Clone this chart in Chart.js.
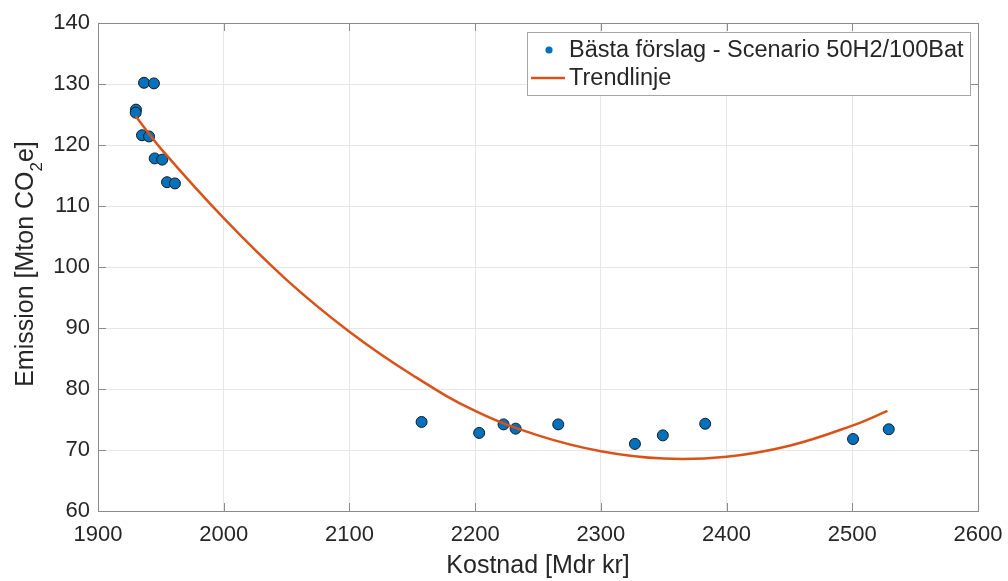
<!DOCTYPE html>
<html>
<head>
<meta charset="utf-8">
<script src="https://cdn.jsdelivr.net/npm/chart.js@4.4.1/dist/chart.umd.min.js"></script>
<style>
  html, body { margin: 0; padding: 0; background: #ffffff; }
  #wrap { width: 1008px; height: 581px; position: relative; }
</style>
</head>
<body>
<div id="wrap"><canvas id="paretoChart"></canvas></div>
<script>
// Best proposals: cost [Mdr kr] vs emission [Mton CO2e]
const costs = [1936.6, 1944.5, 1930.2, 1930.0, 1935.0, 1940.6, 1945.1, 1951.1, 1954.9, 1961.2,
               2157.4, 2203.2, 2222.6, 2232.2, 2266.1, 2327.1, 2349.3, 2383.0, 2500.6, 2529.0];
const emissions = [130.2, 130.1, 125.8, 125.3, 121.6, 121.4, 117.8, 117.6, 113.9, 113.7,
                   74.6, 72.8, 74.2, 73.5, 74.2, 71.0, 72.4, 74.3, 71.8, 73.4];

// Trend line, sampled along the curve
const trendCost = [1930, 1950, 2000, 2050, 2100, 2150, 2200, 2250, 2300, 2350, 2400, 2450, 2500, 2528];
const trendEmission = [124.7, 119.4, 108.0, 97.9, 89.4, 82.3, 76.4, 72.4, 69.8, 68.6, 68.9, 70.7, 74.0, 76.4];

const xTicks = [1900, 2000, 2100, 2200, 2300, 2400, 2500, 2600];
const yTicks = [60, 70, 80, 90, 100, 110, 120, 130, 140];

const seriesLabels = ['Bästa förslag - Scenario 50H2/100Bat', 'Trendlinje'];

const FONT = "'Liberation Sans', Arial, sans-serif";
const TEXT = '#262626';
const AXIS = '#8a8a8a';

// Box around the plot plus inward tick marks on all four sides
const axesBox = {
    id: 'axesBox',
    afterDatasetsDraw(chart) {
        const { ctx, chartArea: a, scales } = chart;
        const len = 8;
        ctx.save();
        ctx.strokeStyle = AXIS;
        ctx.lineWidth = 1;
        ctx.beginPath();
        xTicks.forEach(v => {
            const px = Math.round(scales.x.getPixelForValue(v)) + 0.5;
            ctx.moveTo(px, a.bottom); ctx.lineTo(px, a.bottom - len);
            ctx.moveTo(px, a.top); ctx.lineTo(px, a.top + len);
        });
        yTicks.forEach(v => {
            const py = Math.round(scales.y.getPixelForValue(v)) + 0.5;
            ctx.moveTo(a.left, py); ctx.lineTo(a.left + len, py);
            ctx.moveTo(a.right, py); ctx.lineTo(a.right - len, py);
        });
        ctx.stroke();
        ctx.strokeRect(Math.round(a.left) + 0.5, Math.round(a.top) + 0.5,
                       Math.round(a.right - a.left), Math.round(a.bottom - a.top));
        ctx.restore();
    }
};

// Y axis title with subscripted 2
const yTitle = {
    id: 'yTitle',
    afterDraw(chart) {
        const { ctx } = chart;
        const parts = [
            { t: 'Emission [Mton CO', size: 25, dy: 0 },
            { t: '2', size: 17, dy: 9 },
            { t: 'e]', size: 25, dy: 0 }
        ];
        ctx.save();
        ctx.translate(33, 264);
        ctx.rotate(-Math.PI / 2);
        ctx.fillStyle = TEXT;
        ctx.textBaseline = 'alphabetic';
        let total = 0;
        parts.forEach(p => { ctx.font = p.size + 'px ' + FONT; p.w = ctx.measureText(p.t).width; total += p.w; });
        let x = -total / 2;
        parts.forEach(p => {
            ctx.font = p.size + 'px ' + FONT;
            ctx.fillText(p.t, x, p.dy);
            x += p.w;
        });
        ctx.restore();
    }
};

// Legend box in the upper right corner of the plot
const boxLegend = {
    id: 'boxLegend',
    afterDraw(chart) {
        const { ctx } = chart;
        const ds = chart.data.datasets;
        const left = 527, top = 32, w = 443, h = 63;
        ctx.save();
        ctx.fillStyle = '#ffffff';
        ctx.fillRect(left, top, w, h);
        ctx.strokeStyle = '#a6a6a6';
        ctx.lineWidth = 1;
        ctx.strokeRect(left + 0.5, top + 0.5, w, h);
        ctx.font = '23.5px ' + FONT;
        ctx.textBaseline = 'middle';
        const rows = [top + 19, top + 47];
        // scatter entry
        ctx.beginPath();
        ctx.arc(left + 22, rows[0] - 1, 3.6, 0, Math.PI * 2);
        ctx.fillStyle = ds[0].backgroundColor;
        ctx.fill();
        ctx.fillStyle = TEXT;
        ctx.fillText(ds[0].label, left + 42, rows[0]);
        // line entry
        ctx.beginPath();
        ctx.moveTo(left + 4, rows[1] - 1);
        ctx.lineTo(left + 38, rows[1] - 1);
        ctx.strokeStyle = ds[1].borderColor;
        ctx.lineWidth = 2.5;
        ctx.stroke();
        ctx.fillText(ds[1].label, left + 42, rows[1]);
        ctx.restore();
    }
};

const ctx = document.getElementById('paretoChart').getContext('2d');
new Chart(ctx, {
    type: 'scatter',
    data: {
        datasets: [
            {
                label: seriesLabels[0],
                data: costs.map((c, i) => ({ x: c, y: emissions[i] })),
                backgroundColor: '#0072BD',
                borderColor: '#1a1a1a',
                borderWidth: 1,
                pointRadius: 5.5,
                order: 1
            },
            {
                label: seriesLabels[1],
                type: 'line',
                data: trendCost.map((c, i) => ({ x: c, y: trendEmission[i] })),
                borderColor: '#D95319',
                borderWidth: 2.5,
                pointRadius: 0,
                fill: false,
                tension: 0.4,
                order: 0
            }
        ]
    },
    options: {
        responsive: true,
        maintainAspectRatio: false,
        animation: false,
        layout: { padding: { top: 23, right: 30, left: 0, bottom: 0 } },
        plugins: {
            legend: { display: false },
            tooltip: { enabled: false }
        },
        scales: {
            x: {
                type: 'linear',
                min: 1900,
                max: 2600,
                afterBuildTicks: axis => { axis.ticks = xTicks.map(v => ({ value: v })); },
                afterFit: axis => {
                    axis.height = 70;
                    axis.paddingLeft = 0;
                    axis.paddingRight = 0;
                },
                border: { display: false },
                grid: { color: '#e6e6e6', drawTicks: false },
                ticks: {
                    color: TEXT,
                    font: { family: FONT, size: 22 },
                    padding: 11,
                    maxRotation: 0,
                    callback: v => String(v)
                },
                title: {
                    display: true,
                    text: 'Kostnad [Mdr kr]',
                    color: TEXT,
                    font: { family: FONT, size: 25 },
                    padding: { top: 0, bottom: 0 }
                }
            },
            y: {
                type: 'linear',
                min: 60,
                max: 140,
                afterBuildTicks: axis => { axis.ticks = yTicks.map(v => ({ value: v })); },
                afterFit: axis => {
                    axis.width = 98;
                    axis.paddingTop = 0;
                    axis.paddingBottom = 0;
                },
                border: { display: false },
                grid: { color: '#e6e6e6', drawTicks: false },
                ticks: {
                    color: TEXT,
                    font: { family: FONT, size: 22 },
                    padding: 8,
                    callback: v => String(v)
                }
            }
        }
    },
    plugins: [axesBox, yTitle, boxLegend]
});
</script>
</body>
</html>
